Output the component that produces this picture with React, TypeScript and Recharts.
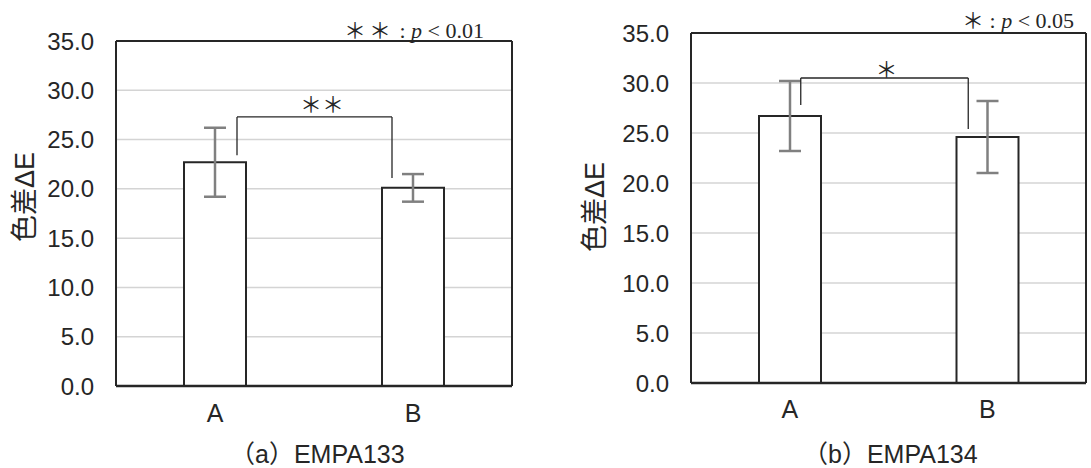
import { BarChart, Bar, XAxis, YAxis, CartesianGrid, ErrorBar, ReferenceLine } from "recharts";

const categories = ["A", "B"];

// (a) EMPA133
const meanA = [22.7, 20.1];
const sdA = [3.5, 1.4];
// (b) EMPA134
const meanB = [26.7, 24.6];
const sdB = [3.5, 3.6];

// significance brackets: [bar height, left foot, right foot]
const bracketA = [27.3, 23.4, 21.1];
const bracketB = [30.5, 27.8, 25.4];

const yTicks = [0, 5, 10, 15, 20, 25, 30, 35];

const INK = "#262626";
const SANS = "'Liberation Sans', Arial, 'Noto Sans CJK JP', sans-serif";
const SERIF = "'Liberation Serif', 'Times New Roman', serif";
const CJK = "'Noto Sans CJK JP', sans-serif";

const shifted = (dx1: number, dx2: number) => (p: any) => (
  <line x1={p.x1 + dx1} y1={p.y1} x2={p.x2 + dx2} y2={p.y2} stroke={INK} strokeWidth={1.3} />
);

interface PanelProps {
  means: number[];
  sds: number[];
  bracket: number[];
  marks: string;
  marksDx: number;
  marksOffset: number;
  footL: number;
  footR: number;
  width: number;
  height: number;
  margin: { top: number; right: number; bottom: number; left: number };
  xMargin: number;
}

const Panel = ({ means, sds, bracket, marks, marksDx, marksOffset, footL, footR, width, height, margin, xMargin }: PanelProps) => {
  const data = categories.map((c, i) => ({ name: c, value: means[i], err: sds[i] }));
  const [top, left, right] = bracket;
  return (
    <BarChart width={width} height={height} data={data} margin={margin}>
      <CartesianGrid horizontal vertical={false} stroke="#d4d4d4" strokeWidth={1.5} />
      {/* right edge of the plot box */}
      <CartesianGrid
        horizontal={false}
        vertical
        stroke={INK}
        strokeWidth={2}
        verticalCoordinatesGenerator={({ offset }: any) => [offset.left + offset.width]}
      />
      <XAxis
        dataKey="name"
        height={40}
        tickLine={false}
        tickSize={0}
        tickMargin={xMargin}
        axisLine={{ stroke: INK, strokeWidth: 2.5 }}
        tick={{ fontSize: 25, fill: INK, fontFamily: SANS }}
      />
      <YAxis
        domain={[0, 35]}
        ticks={yTicks}
        width={60}
        tickLine={false}
        tickSize={0}
        tickMargin={22}
        tickFormatter={(v: number) => v.toFixed(1)}
        axisLine={{ stroke: INK, strokeWidth: 2 }}
        tick={{ fontSize: 24, fill: INK, fontFamily: SANS }}
      />
      <ReferenceLine y={35} stroke={INK} strokeWidth={2} />
      <Bar dataKey="value" fill="#ffffff" stroke={INK} strokeWidth={2} barSize={62} isAnimationActive={false}>
        <ErrorBar dataKey="err" width={11} stroke="#808080" strokeWidth={2.5} />
      </Bar>
      <ReferenceLine
        segment={[{ x: "A", y: top }, { x: "B", y: top }]}
        shape={shifted(footL, footR)}
        label={{ value: marks, position: "top", offset: marksOffset, dx: marksDx, fill: INK, fontSize: 22, fontFamily: CJK }}
      />
      <ReferenceLine segment={[{ x: "A", y: left }, { x: "A", y: top }]} shape={shifted(footL, footL)} />
      <ReferenceLine segment={[{ x: "B", y: right }, { x: "B", y: top }]} shape={shifted(footR, footR)} />
    </BarChart>
  );
};

const abs = (s: any) => ({ position: "absolute" as const, whiteSpace: "nowrap" as const, ...s });

const App = () => (
  <div style={{ position: "absolute", left: 0, top: 0, width: 1091, height: 468, background: "#fff", overflow: "hidden" }}>
    <div style={abs({ left: 0, top: 0 })}>
      <Panel
        means={meanA}
        sds={sdA}
        bracket={bracketA}
        marks="＊＊"
        marksDx={8}
        marksOffset={5}
        footL={22}
        footR={-21}
        width={520}
        height={468}
        margin={{ top: 41, right: 8, bottom: 42, left: 56 }}
        xMargin={18}
      />
    </div>
    <div style={abs({ left: 560, top: 0 })}>
      <Panel
        means={meanB}
        sds={sdB}
        bracket={bracketB}
        marks="＊"
        marksDx={-2}
        marksOffset={1}
        footL={11}
        footR={-19}
        width={531}
        height={468}
        margin={{ top: 33, right: 5, bottom: 45, left: 71 }}
        xMargin={17}
      />
    </div>

    <div style={abs({ left: 22, top: 197, transform: "translate(-50%, -50%) rotate(-90deg)", fontSize: 27, color: INK, fontFamily: SANS })}>
      色差ΔE
    </div>
    <div style={abs({ left: 592, top: 207, transform: "translate(-50%, -50%) rotate(-90deg)", fontSize: 27, color: INK, fontFamily: SANS })}>
      色差ΔE
    </div>

    <div style={abs({ right: 1091 - 484, top: 15, fontSize: 22, color: INK, fontFamily: SERIF, lineHeight: "26px" })}>
      <span style={{ fontFamily: CJK, fontSize: 22, letterSpacing: 3 }}>＊＊</span> : <i>p</i> &lt; 0.01
    </div>
    <div style={abs({ left: 962, top: 5, fontSize: 22, color: INK, fontFamily: SERIF, lineHeight: "26px" })}>
      <span style={{ fontFamily: CJK, fontSize: 22 }}>＊</span> : <i>p</i> &lt; 0.05
    </div>

    <div style={abs({ left: 230, top: 440, fontSize: 25, color: INK, fontFamily: SANS, lineHeight: "28px" })}>
      （a）EMPA133
    </div>
    <div style={abs({ left: 803, top: 440, fontSize: 25, color: INK, fontFamily: SANS, lineHeight: "28px" })}>
      （b）EMPA134
    </div>
  </div>
);

export default App;
